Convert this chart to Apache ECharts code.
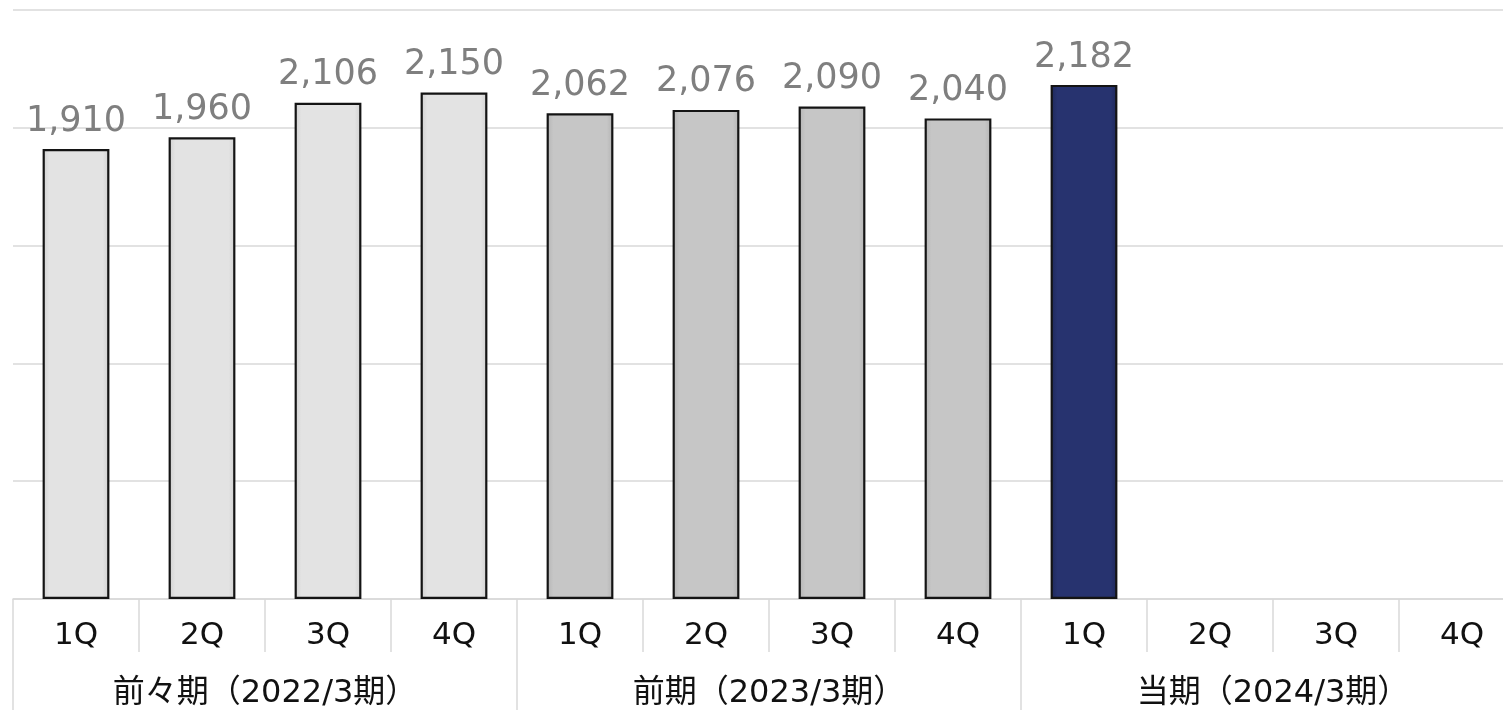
<!DOCTYPE html>
<html>
<head>
<meta charset="utf-8">
<script src="https://cdn.jsdelivr.net/npm/echarts@6/dist/echarts.min.js"></script>
<style>
html,body{margin:0;padding:0;background:#fff;}
#chart{width:1503px;height:710px;}
</style>
</head>
<body>
<div id="chart"></div>
<script>
const quarters = ['1Q','2Q','3Q','4Q','1Q','2Q','3Q','4Q','1Q','2Q','3Q','4Q'];
const periods = ['前々期（2022/3期）','前期（2023/3期）','当期（2024/3期）'];
const values = [1910, 1960, 2106, 2150, 2062, 2076, 2090, 2040, 2182, null, null, null];
const barColors = ['#e3e3e3','#e3e3e3','#e3e3e3','#e3e3e3','#c6c6c6','#c6c6c6','#c6c6c6','#c6c6c6','#27336f','#27336f','#27336f','#27336f'];
const edgeColors = ['#cfcfcf','#cfcfcf','#cfcfcf','#cfcfcf','#b3b3b3','#b3b3b3','#b3b3b3','#b3b3b3','#1d2858','#1d2858','#1d2858','#1d2858'];

const FONT = '"DejaVu Sans", "Noto Sans CJK JP", sans-serif';

function barFill(i) {
  return {
    type: 'linear', x: 0, y: 0, x2: 1, y2: 0,
    colorStops: [
      { offset: 0, color: edgeColors[i] },
      { offset: 0.1, color: barColors[i] },
      { offset: 0.9, color: barColors[i] },
      { offset: 1, color: edgeColors[i] }
    ]
  };
}

const chart = echarts.init(document.getElementById('chart'));
chart.setOption({
  animation: false,
  grid: { left: 13, width: 1512, top: 10, bottom: 111, containLabel: false, outerBoundsMode: 'none' },
  xAxis: [
    {
      type: 'category',
      data: quarters,
      position: 'bottom',
      axisLine: { show: true, lineStyle: { color: '#d9d9d9', width: 1.5 } },
      axisTick: { show: true, interval: 0, length: 53, alignWithLabel: false, lineStyle: { color: '#d9d9d9', width: 1.5 } },
      axisLabel: { interval: 0, margin: 21, fontSize: 31, color: '#111', fontFamily: FONT }
    },
    {
      type: 'category',
      data: periods,
      position: 'bottom',
      axisLine: { show: false },
      axisTick: { show: true, interval: 0, length: 111, alignWithLabel: false, lineStyle: { color: '#d9d9d9', width: 1.5 } },
      axisLabel: { interval: 0, margin: 79, fontSize: 32, color: '#111', fontFamily: FONT }
    }
  ],
  yAxis: {
    type: 'value',
    min: 0, max: 2500, interval: 500,
    axisLine: { show: false },
    axisTick: { show: false },
    axisLabel: { show: false },
    splitLine: { show: true, lineStyle: { color: '#d9d9d9', width: 1.5 } }
  },
  series: [{
    type: 'bar',
    xAxisIndex: 0,
    barWidth: '53%',
    data: values.map((v, i) => ({
      value: v,
      itemStyle: {
        color: barFill(i),
        borderColor: '#141414',
        borderWidth: 2.2
      }
    })),
    label: {
      show: true,
      position: 'top',
      distance: 10,
      fontSize: 35,
      color: '#7f7f7f',
      fontFamily: FONT,
      formatter: p => p.value == null ? '' : p.value.toLocaleString('en-US')
    }
  }]
});
</script>
</body>
</html>
